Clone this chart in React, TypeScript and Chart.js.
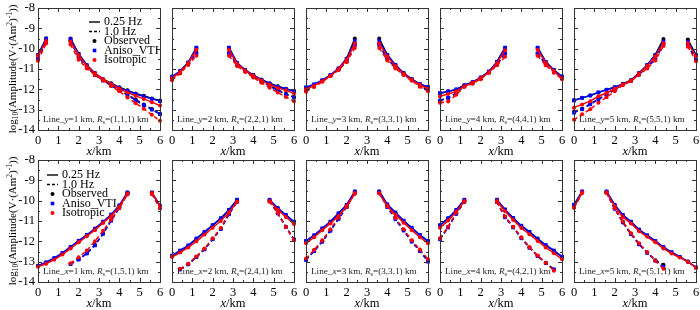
import React, { useEffect, useRef } from 'react';
import { Chart, registerables } from 'chart.js';
Chart.register(...registerables);

const N = null;
const XS = [0, 0.4, 0.8, 1.2, 1.6, 2.0, 2.4, 2.8, 3.2, 3.6, 4.0, 4.4, 4.8, 5.2, 5.6, 6.0];
const X_MIN = 0, X_MAX = 6, Y_MIN = -14, Y_MAX = -8;
const LEGEND_LABELS = ['0.25 Hz', '1.0 Hz', 'Observed', 'Aniso_VTI', 'Isotropic'];

// Row 1: Line_y = k km
const R1C1_OBS_S = [-10.3, -9.5, N, N, -9.5, -10.25, -10.8, -11.2, -11.5, -11.7, -11.9, -12.05, -12.2, -12.32, -12.45, -12.55];
const R1C1_VTI_S = [-10.3, -9.5, N, N, -9.52, -10.27, -10.82, -11.22, -11.52, -11.73, -11.93, -12.08, -12.23, -12.35, -12.47, -12.58];
const R1C1_ISO_S = [-10.35, -9.62, N, N, -9.65, -10.32, -10.86, -11.22, -11.5, -11.75, -11.97, -12.15, -12.32, -12.47, -12.63, -12.8];
const R1C1_OBS_D = [-10.55, -9.6, N, N, -9.6, -10.4, -10.88, -11.27, -11.55, -11.8, -12.02, -12.26, -12.5, -12.74, -12.97, -13.2];
const R1C1_VTI_D = [-10.5, -9.65, N, N, -9.65, -10.42, -10.9, -11.3, -11.57, -11.82, -12.04, -12.28, -12.55, -12.78, -13.0, -13.22];
const R1C1_ISO_D = [-10.6, -9.75, N, N, -9.8, -10.55, -10.97, -11.3, -11.56, -11.83, -12.1, -12.4, -12.68, -12.95, -13.25, -13.55];

const R1C2_OBS_S = [-11.4, -11.1, -10.68, -9.95, N, N, N, -9.95, -10.7, -11.05, -11.3, -11.52, -11.7, -11.85, -11.97, -12.08];
const R1C2_VTI_S = [-11.37, -11.1, -10.68, -9.95, N, N, N, -9.95, -10.7, -11.05, -11.3, -11.53, -11.72, -11.87, -11.98, -12.1];
const R1C2_ISO_S = [-11.45, -11.15, -10.72, -10.05, N, N, N, -10.05, -10.75, -11.08, -11.33, -11.57, -11.77, -11.93, -12.05, -12.2];
const R1C2_OBS_D = [-11.5, -11.15, -10.7, -10.2, N, N, N, -10.2, -10.75, -11.08, -11.35, -11.6, -11.82, -12.02, -12.22, -12.38];
const R1C2_VTI_D = [-11.5, -11.17, -10.72, -10.25, N, N, N, -10.25, -10.78, -11.1, -11.37, -11.62, -11.85, -12.05, -12.25, -12.4];
const R1C2_ISO_D = [-11.55, -11.22, -10.8, -10.35, N, N, N, -10.35, -10.85, -11.15, -11.42, -11.68, -11.92, -12.15, -12.38, -12.58];

const R1C3_OBS_S = [-11.92, -11.77, -11.56, -11.32, -10.97, -10.48, -9.5, N, N, -9.5, -10.3, -10.8, -11.2, -11.5, -11.75, -11.9];
const R1C3_VTI_S = [-11.9, -11.75, -11.55, -11.3, -10.97, -10.5, -9.62, N, N, -9.62, -10.32, -10.8, -11.2, -11.5, -11.74, -11.88];
const R1C3_ISO_S = [-12.0, -11.82, -11.6, -11.35, -11.0, -10.55, -9.75, N, N, -9.75, -10.38, -10.85, -11.23, -11.53, -11.78, -11.97];
const R1C3_OBS_D = [-12.05, -11.82, -11.58, -11.32, -11.0, -10.6, -9.8, N, N, -9.8, -10.5, -10.9, -11.25, -11.52, -11.8, -12.02];
const R1C3_VTI_D = [-12.05, -11.83, -11.6, -11.33, -11.02, -10.62, -9.82, N, N, -9.82, -10.52, -10.92, -11.27, -11.55, -11.82, -12.05];
const R1C3_ISO_D = [-12.12, -11.88, -11.63, -11.36, -11.05, -10.67, -9.97, N, N, -9.97, -10.58, -10.97, -11.3, -11.58, -11.87, -12.1];

const R1C4_OBS_S = [-12.2, -12.1, -12.02, -11.8, -11.65, -11.42, -11.13, -10.65, -9.95, N, N, N, -9.95, -10.65, -11.05, -11.37];
const R1C4_VTI_S = [-12.18, -12.1, -12.0, -11.8, -11.65, -11.42, -11.12, -10.65, -9.95, N, N, N, -9.95, -10.65, -11.05, -11.37];
const R1C4_ISO_S = [-12.34, -12.23, -12.1, -11.85, -11.68, -11.45, -11.17, -10.7, -10.08, N, N, N, -10.05, -10.7, -11.1, -11.45];
const R1C4_OBS_D = [-12.55, -12.42, -12.18, -11.82, -11.68, -11.45, -11.15, -10.77, -10.22, N, N, N, -10.22, -10.75, -11.1, -11.42];
const R1C4_VTI_D = [-12.55, -12.42, -12.18, -11.83, -11.7, -11.46, -11.17, -10.78, -10.25, N, N, N, -10.25, -10.77, -11.12, -11.43];
const R1C4_ISO_D = [-12.66, -12.6, -12.27, -11.88, -11.72, -11.5, -11.2, -10.82, -10.4, N, N, N, -10.35, -10.82, -11.18, -11.5];

const R1C5_OBS_S = [-12.53, -12.42, -12.3, -12.15, -12.02, -11.9, -11.74, -11.55, -11.2, -10.8, -10.3, -9.52, N, N, -9.55, -10.3];
const R1C5_VTI_S = [-12.55, -12.42, -12.3, -12.15, -12.02, -11.9, -11.74, -11.56, -11.2, -10.8, -10.32, -9.65, N, N, -9.65, -10.32];
const R1C5_ISO_S = [-12.9, -12.74, -12.58, -12.34, -12.18, -11.97, -11.76, -11.58, -11.22, -10.85, -10.38, -9.72, N, N, -9.72, -10.38];
const R1C5_OBS_D = [-13.1, -12.95, -12.72, -12.48, -12.25, -12.02, -11.75, -11.58, -11.25, -10.9, -10.5, -9.76, N, N, -9.8, -10.55];
const R1C5_VTI_D = [-13.15, -12.98, -12.74, -12.5, -12.26, -12.02, -11.75, -11.58, -11.26, -10.92, -10.52, -9.78, N, N, -9.8, -10.56];
const R1C5_ISO_D = [-13.5, -13.22, -12.98, -12.66, -12.39, -12.1, -11.8, -11.6, -11.3, -10.97, -10.58, -9.87, N, N, -9.9, -10.62];

// Row 2: Line_x = k km
const R2C1_OBS_S = [-13.2, -13.05, -12.85, -12.6, -12.3, -12.0, -11.7, -11.4, -11.05, -10.7, -10.25, -9.6, N, N, -9.6, -10.25];
const R2C1_VTI_S = [-13.2, -13.03, -12.82, -12.57, -12.27, -11.97, -11.68, -11.37, -11.03, -10.68, -10.23, -9.6, N, N, -9.6, -10.25];
const R2C1_ISO_S = [-13.25, -13.1, -12.9, -12.65, -12.35, -12.05, -11.75, -11.45, -11.1, -10.75, -10.3, -9.65, N, N, -9.62, -10.27];
const R2C1_OBS_D = [N, N, N, N, -13.12, -12.88, -12.58, -12.18, -11.63, -10.97, -10.35, -9.65, N, N, -9.65, -10.35];
const R2C1_VTI_D = [N, N, N, N, -13.12, -12.9, -12.6, -12.2, -11.62, -10.98, -10.35, -9.65, N, N, -9.65, -10.35];
const R2C1_ISO_D = [N, N, N, N, -13.08, -12.78, -12.45, -12.0, -11.48, -10.93, -10.35, -9.7, N, N, -9.67, -10.37];

const R2C2_OBS_S = [-12.72, -12.47, -12.22, -11.88, -11.55, -11.22, -10.88, -10.47, -9.97, N, N, N, -9.97, -10.38, -10.72, -11.05];
const R2C2_VTI_S = [-12.7, -12.45, -12.2, -11.86, -11.53, -11.2, -10.86, -10.45, -9.95, N, N, N, -9.95, -10.36, -10.7, -11.03];
const R2C2_ISO_S = [-12.77, -12.55, -12.3, -12.0, -11.67, -11.33, -11.0, -10.58, -10.05, N, N, N, -10.02, -10.45, -10.8, -11.15];
const R2C2_OBS_D = [N, -13.38, -13.13, -12.77, -12.38, -11.88, -11.38, -10.65, -10.05, N, N, N, -10.02, -10.62, -11.28, -11.9];
const R2C2_VTI_D = [N, -13.38, -13.13, -12.78, -12.4, -11.9, -11.4, -10.67, -10.05, N, N, N, -10.03, -10.63, -11.3, -11.92];
const R2C2_ISO_D = [N, -13.35, -13.1, -12.75, -12.35, -11.85, -11.35, -10.6, -10.05, N, N, N, -10.05, -10.6, -11.3, -11.95];

const R2C3_OBS_S = [-12.0, -11.72, -11.38, -11.05, -10.63, -10.22, -9.55, N, N, -9.55, -10.2, -10.6, -11.0, -11.35, -11.7, -12.0];
const R2C3_VTI_S = [-11.98, -11.7, -11.36, -11.03, -10.62, -10.2, -9.55, N, N, -9.55, -10.18, -10.58, -10.98, -11.33, -11.68, -11.98];
const R2C3_ISO_S = [-12.1, -11.8, -11.45, -11.12, -10.75, -10.3, -9.67, N, N, -9.65, -10.28, -10.68, -11.08, -11.45, -11.8, -12.1];
const R2C3_OBS_D = [-12.9, -12.47, -12.0, -11.47, -10.88, -10.3, -9.6, N, N, -9.6, -10.3, -10.9, -11.45, -12.0, -12.45, -12.95];
const R2C3_VTI_D = [-12.92, -12.48, -12.02, -11.48, -10.9, -10.32, -9.6, N, N, -9.6, -10.32, -10.92, -11.47, -12.02, -12.48, -13.0];
const R2C3_ISO_D = [-12.85, -12.42, -11.95, -11.4, -10.82, -10.25, -9.62, N, N, -9.62, -10.25, -10.85, -11.4, -11.95, -12.4, -12.88];

const R2C4_OBS_S = [-11.22, -10.88, -10.47, -9.97, N, N, N, -9.97, -10.45, -10.87, -11.25, -11.55, -11.88, -12.2, -12.47, -12.77];
const R2C4_VTI_S = [-11.2, -10.86, -10.45, -9.95, N, N, N, -9.95, -10.43, -10.85, -11.23, -11.53, -11.86, -12.18, -12.45, -12.75];
const R2C4_ISO_S = [-11.33, -10.98, -10.55, -10.02, N, N, N, -10.02, -10.52, -10.95, -11.35, -11.65, -11.98, -12.3, -12.58, -12.88];
const R2C4_OBS_D = [-11.88, -11.3, -10.63, -10.05, N, N, N, -10.05, -10.8, -11.3, -11.83, -12.3, -12.72, -13.05, -13.38, N];
const R2C4_VTI_D = [-11.9, -11.32, -10.65, -10.05, N, N, N, -10.07, -10.82, -11.32, -11.85, -12.32, -12.73, -13.07, -13.38, N];
const R2C4_ISO_D = [-11.85, -11.28, -10.6, -10.05, N, N, N, -10.07, -10.78, -11.28, -11.8, -12.28, -12.7, -13.05, -13.45, N];

const R2C5_OBS_S = [-10.22, -9.55, N, N, -9.55, -10.22, -10.72, -11.05, -11.43, -11.72, -12.0, -12.3, -12.55, -12.77, -13.0, -13.3];
const R2C5_VTI_S = [-10.2, -9.55, N, N, -9.55, -10.2, -10.7, -11.03, -11.42, -11.7, -11.98, -12.28, -12.53, -12.76, -12.99, -13.28];
const R2C5_ISO_S = [-10.33, -9.6, N, N, -9.6, -10.28, -10.8, -11.12, -11.5, -11.78, -12.05, -12.35, -12.6, -12.8, -13.0, -13.3];
const R2C5_OBS_D = [-10.33, -9.6, N, N, -9.6, -10.38, -11.05, -11.63, -12.13, -12.55, -12.93, -13.15, N, N, N, N];
const R2C5_VTI_D = [-10.3, -9.6, N, N, -9.6, -10.4, -11.07, -11.65, -12.15, -12.57, -12.95, -13.25, N, N, N, N];
const R2C5_ISO_D = [-10.35, -9.62, N, N, -9.62, -10.37, -11.03, -11.6, -12.1, -12.52, -12.95, -13.35, N, N, N, N];

const PANELS = [
  { row: 0, col: 0, axis: 'y', km: '1', rs: '(1,1,1)', s: [R1C1_OBS_S, R1C1_VTI_S, R1C1_ISO_S], d: [R1C1_OBS_D, R1C1_VTI_D, R1C1_ISO_D] },
  { row: 0, col: 1, axis: 'y', km: '2', rs: '(2,2,1)', s: [R1C2_OBS_S, R1C2_VTI_S, R1C2_ISO_S], d: [R1C2_OBS_D, R1C2_VTI_D, R1C2_ISO_D] },
  { row: 0, col: 2, axis: 'y', km: '3', rs: '(3,3,1)', s: [R1C3_OBS_S, R1C3_VTI_S, R1C3_ISO_S], d: [R1C3_OBS_D, R1C3_VTI_D, R1C3_ISO_D] },
  { row: 0, col: 3, axis: 'y', km: '4', rs: '(4,4,1)', s: [R1C4_OBS_S, R1C4_VTI_S, R1C4_ISO_S], d: [R1C4_OBS_D, R1C4_VTI_D, R1C4_ISO_D] },
  { row: 0, col: 4, axis: 'y', km: '5', rs: '(5,5,1)', s: [R1C5_OBS_S, R1C5_VTI_S, R1C5_ISO_S], d: [R1C5_OBS_D, R1C5_VTI_D, R1C5_ISO_D] },
  { row: 1, col: 0, axis: 'x', km: '1', rs: '(1,5,1)', s: [R2C1_OBS_S, R2C1_VTI_S, R2C1_ISO_S], d: [R2C1_OBS_D, R2C1_VTI_D, R2C1_ISO_D] },
  { row: 1, col: 1, axis: 'x', km: '2', rs: '(2,4,1)', s: [R2C2_OBS_S, R2C2_VTI_S, R2C2_ISO_S], d: [R2C2_OBS_D, R2C2_VTI_D, R2C2_ISO_D] },
  { row: 1, col: 2, axis: 'x', km: '3', rs: '(3,3,1)', s: [R2C3_OBS_S, R2C3_VTI_S, R2C3_ISO_S], d: [R2C3_OBS_D, R2C3_VTI_D, R2C3_ISO_D] },
  { row: 1, col: 3, axis: 'x', km: '4', rs: '(4,2,1)', s: [R2C4_OBS_S, R2C4_VTI_S, R2C4_ISO_S], d: [R2C4_OBS_D, R2C4_VTI_D, R2C4_ISO_D] },
  { row: 1, col: 4, axis: 'x', km: '5', rs: '(5,1,1)', s: [R2C5_OBS_S, R2C5_VTI_S, R2C5_ISO_S], d: [R2C5_OBS_D, R2C5_VTI_D, R2C5_ISO_D] },
];

// styling / layout
const FONT = '"Liberation Serif", "Times New Roman", serif';
const COLORS = ['#000000', '#0000ff', '#ff0000'];
const POINT_STYLES = ['circle', 'rect', 'circle'];
const POINT_RADII = [2, 2.6, 2];
const ORDERS = [3, 2, 1];
const PLOT_LEFTS = [38, 172, 306, 440, 574];
const PLOT_W = 122;
const PLOT_H = 122;
const ROW_TOPS = [8, 160];
const CANVAS_TOPS = [0, 152];
const X_AXIS_H = 28;
const LEGEND_POS = [
  { x0: 89, x1: 100, tx: 104, mx: 94.5, ys: [22, 31.5, 41, 50.5, 60] },
  { x0: 47, x1: 58, tx: 62, mx: 52.5, ys: [175, 184.5, 194, 203.5, 213] },
];

type Seg = { t: string; italic?: boolean; sub?: boolean; sup?: boolean };

function segFont(s: Seg, size: number) {
  const fs = s.sub || s.sup ? size * 0.68 : size;
  return `${s.italic ? 'italic ' : ''}${fs}px ${FONT}`;
}
function richWidth(ctx: CanvasRenderingContext2D, segs: Seg[], size: number) {
  let w = 0;
  for (const s of segs) {
    ctx.font = segFont(s, size);
    w += ctx.measureText(s.t).width;
  }
  return w;
}
function drawRich(ctx: CanvasRenderingContext2D, x: number, y: number, segs: Seg[], size: number) {
  let cx = x;
  ctx.textBaseline = 'alphabetic';
  ctx.textAlign = 'left';
  for (const s of segs) {
    ctx.font = segFont(s, size);
    const dy = s.sub ? size * 0.22 : s.sup ? -size * 0.4 : 0;
    ctx.fillText(s.t, cx, y + dy);
    cx += ctx.measureText(s.t).width;
  }
}

function Panel({ p }: { p: typeof PANELS[number] }) {
  const ref = useRef<HTMLCanvasElement>(null);
  const first = p.col === 0;
  const padL = first ? 14 : 6;
  const yW = first ? PLOT_LEFTS[0] - padL : 0;
  const left = first ? 0 : PLOT_LEFTS[p.col] - 6;
  const width = (first ? PLOT_LEFTS[0] : 6) + PLOT_W + 6;
  const top = CANVAS_TOPS[p.row];
  const padT = ROW_TOPS[p.row] - top;
  const height = padT + PLOT_H + X_AXIS_H;

  useEffect(() => {
    const canvas = ref.current!;
    const datasets: any[] = [];
    for (let m = 0; m < 3; m++) {
      [p.s[m], p.d[m]].forEach((arr, f) => {
        datasets.push({
          data: XS.map((x, i) => ({ x, y: arr[i] })),
          borderColor: COLORS[m],
          backgroundColor: COLORS[m],
          pointBackgroundColor: COLORS[m],
          pointBorderColor: COLORS[m],
          pointBorderWidth: 0,
          pointStyle: POINT_STYLES[m],
          pointRadius: POINT_RADII[m],
          borderWidth: 1.5,
          borderDash: f === 1 ? [4, 3] : [],
          tension: 0,
          spanGaps: false,
          clip: false,
          order: ORDERS[m],
        });
      });
    }

    const decor = {
      id: 'decor',
      afterDraw(chart: any) {
        const { ctx, chartArea: a, scales } = chart;
        const xs = scales.x, ys = scales.y;
        ctx.save();
        ctx.strokeStyle = '#333';
        ctx.lineWidth = 1;
        ctx.setLineDash([]);
        ctx.strokeRect(a.left + 0.5, a.top + 0.5, a.right - a.left, a.bottom - a.top);
        ctx.beginPath();
        for (let v = Y_MIN; v <= Y_MAX + 1e-9; v += 0.5) {
          const y = Math.round(ys.getPixelForValue(v)) + 0.5;
          const len = Math.abs(v - Math.round(v)) < 1e-6 ? 4 : 2;
          ctx.moveTo(a.left, y); ctx.lineTo(a.left + len, y);
          ctx.moveTo(a.right, y); ctx.lineTo(a.right - len, y);
        }
        for (let v = X_MIN; v <= X_MAX + 1e-9; v += 0.5) {
          const x = Math.round(xs.getPixelForValue(v)) + 0.5;
          const len = Math.abs(v - Math.round(v)) < 1e-6 ? 4 : 2;
          ctx.moveTo(x, a.bottom); ctx.lineTo(x, a.bottom - len);
          ctx.moveTo(x, a.top); ctx.lineTo(x, a.top + len);
        }
        ctx.stroke();

        ctx.fillStyle = '#000';
        // x axis title
        const xt: Seg[] = [{ t: 'x', italic: true }, { t: '/km' }];
        const xw = richWidth(ctx, xt, 12.5);
        drawRich(ctx, (a.left + a.right) / 2 - xw / 2, a.bottom + 25, xt, 12.5);

        // annotation
        ctx.fillStyle = '#222';
        const ann: Seg[] = [
          { t: 'Line_' }, { t: p.axis, italic: true }, { t: '=' + p.km + ' km, ' },
          { t: 'R', italic: true }, { t: 's', sub: true }, { t: '=' + p.rs + ' km' },
        ];
        drawRich(ctx, a.left + 5, a.bottom - 8, ann, 9.2);

        if (first) {
          ctx.fillStyle = '#000';
          // y axis title
          const yt: Seg[] = [
            { t: 'log' }, { t: '10', sub: true }, { t: '(Amplitude(V·(Am' }, { t: '2', sup: true },
            { t: ')' }, { t: '-1', sup: true }, { t: '))' },
          ];
          const size = 11;
          const w = richWidth(ctx, yt, size);
          ctx.save();
          ctx.translate(16, (a.top + a.bottom) / 2);
          ctx.rotate(-Math.PI / 2);
          drawRich(ctx, -w / 2, 0, yt, size);
          ctx.restore();

          // legend
          const lp = LEGEND_POS[p.row];
          const ox = left, oy = top;
          ctx.strokeStyle = '#000';
          ctx.lineWidth = 1.4;
          ctx.beginPath();
          ctx.moveTo(lp.x0 - ox, lp.ys[0] - oy); ctx.lineTo(lp.x1 - ox, lp.ys[0] - oy);
          ctx.stroke();
          ctx.setLineDash([3, 2]);
          ctx.beginPath();
          ctx.moveTo(lp.x0 - ox, lp.ys[1] - oy); ctx.lineTo(lp.x1 - ox, lp.ys[1] - oy);
          ctx.stroke();
          ctx.setLineDash([]);
          for (let m = 0; m < 3; m++) {
            ctx.fillStyle = COLORS[m];
            const cx = lp.mx - ox, cy = lp.ys[2 + m] - oy;
            ctx.beginPath();
            if (POINT_STYLES[m] === 'rect') ctx.rect(cx - 1.8, cy - 1.8, 3.6, 3.6);
            else ctx.arc(cx, cy, 2, 0, Math.PI * 2);
            ctx.fill();
          }
          ctx.fillStyle = '#000';
          ctx.font = `12px ${FONT}`;
          ctx.textBaseline = 'middle';
          ctx.textAlign = 'left';
          LEGEND_LABELS.forEach((lab, i) => ctx.fillText(lab, lp.tx - ox, lp.ys[i] - oy));
        }
        ctx.restore();
      },
    };

    const chart = new Chart(canvas, {
      type: 'line',
      data: { datasets },
      options: {
        responsive: false,
        animation: false,
        devicePixelRatio: 1,
        layout: { padding: { left: padL, right: 6, top: padT, bottom: 0 } },
        plugins: { legend: { display: false }, tooltip: { enabled: false } },
        events: [],
        scales: {
          x: {
            type: 'linear', min: X_MIN, max: X_MAX,
            grid: { display: false, drawTicks: false },
            border: { display: false },
            ticks: { stepSize: 1, color: '#000', font: { family: FONT, size: 12.5 }, padding: 3, maxRotation: 0, autoSkip: false },
            afterFit: (s: any) => { s.height = X_AXIS_H; s.paddingLeft = 0; s.paddingRight = 0; },
          },
          y: {
            type: 'linear', min: Y_MIN, max: Y_MAX,
            display: first,
            grid: { display: false, drawTicks: false },
            border: { display: false },
            ticks: { stepSize: 1, color: '#000', font: { family: FONT, size: 12.5 }, padding: 3 },
            afterFit: (s: any) => { s.width = yW; s.paddingTop = 0; s.paddingBottom = 0; },
          },
        },
      } as any,
      plugins: [decor],
    });
    return () => chart.destroy();
  }, []);

  return (
    <canvas
      ref={ref}
      width={width}
      height={height}
      style={{ position: 'absolute', left, top, width, height }}
    />
  );
}

export default function App() {
  return (
    <div style={{ position: 'fixed', left: 0, top: 0, width: 700, height: 310, background: '#fff', overflow: 'hidden' }}>
      {PANELS.map((p, i) => <Panel key={i} p={p} />)}
    </div>
  );
}
